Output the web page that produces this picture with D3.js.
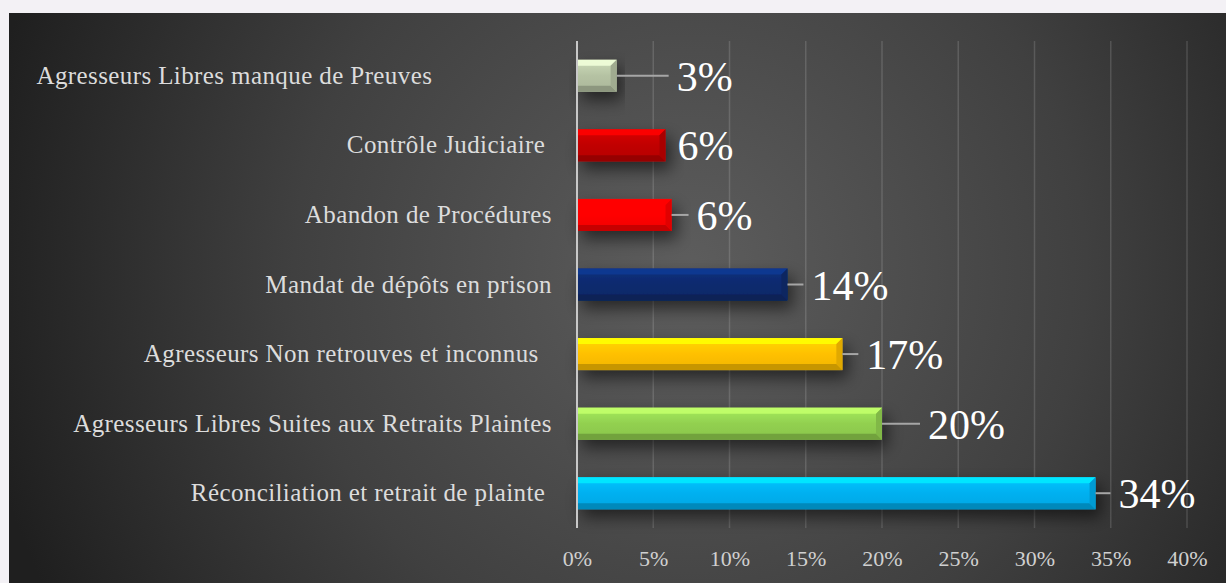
<!DOCTYPE html>
<html><head><meta charset="utf-8">
<script src="https://cdn.jsdelivr.net/npm/d3@7"></script>
<style>
html,body{margin:0;padding:0;background:#f3f1f5;}
svg{display:block;}
text{white-space:pre;}
</style></head>
<body>
<svg id="chart" width="1226" height="583"></svg>
<script>
// ---- data ----
const categories = [
  "Agresseurs Libres manque de Preuves\u00a0\u00a0\u00a0\u00a0\u00a0\u00a0\u00a0\u00a0\u00a0\u00a0\u00a0\u00a0\u00a0\u00a0\u00a0\u00a0\u00a0\u00a0",
  "Contrôle Judiciaire\u00a0",
  "Abandon de Procédures",
  "Mandat de dépôts en prison",
  "Agresseurs Non retrouves et inconnus\u00a0\u00a0",
  "Agresseurs Libres Suites aux Retraits Plaintes",
  "Réconciliation et retrait de plainte\u00a0"
];
const values = [2.6, 5.8, 6.2, 13.8, 17.4, 20.0, 34.0];
const valueLabels = ["3%", "6%", "6%", "14%", "17%", "20%", "34%"];
const tickValues = [0, 5, 10, 15, 20, 25, 30, 35, 40];
const tickLabels = ["0%", "5%", "10%", "15%", "20%", "25%", "30%", "35%", "40%"];

// ---- layout / style ----
const barColors = ["#b5c2a3", "#c00000", "#ff0000", "#0a2a6e", "#ffc000", "#92d050", "#00b0f0"];
const labelGaps = [60, 12, 25, 24, 24, 46, 23]; // px between bar end and value label
const W = 1226, H = 583;
const panel = {x: 9, y: 13};
const svg = d3.select("#chart");
const defs = svg.append("defs");

const bg = defs.append("radialGradient").attr("id", "bg")
  .attr("gradientUnits", "userSpaceOnUse")
  .attr("cx", 690).attr("cy", 270).attr("r", 720);
bg.append("stop").attr("offset", "0").attr("stop-color", "#5d5d5d");
bg.append("stop").attr("offset", "0.55").attr("stop-color", "#404040");
bg.append("stop").attr("offset", "1").attr("stop-color", "#1f1f1f");

const sh = defs.append("filter").attr("id", "shadow")
  .attr("x", "-20%").attr("y", "-50%").attr("width", "140%").attr("height", "250%");
sh.append("feDropShadow").attr("dx", 5).attr("dy", 8).attr("stdDeviation", 8)
  .attr("flood-color", "#000").attr("flood-opacity", 0.55);

svg.append("rect").attr("x", panel.x).attr("y", panel.y)
  .attr("width", W - panel.x).attr("height", H - panel.y).attr("fill", "url(#bg)");

const x = d3.scaleLinear().domain([0, 40]).range([577, 1187]);
const y = d3.scaleBand().domain(categories).range([41, 528]).paddingInner(0.54).paddingOuter(0.27);

// gridlines
svg.append("g").selectAll("line").data(tickValues.filter(d => d > 0)).join("line")
  .attr("x1", d => x(d)).attr("x2", d => x(d))
  .attr("y1", y.range()[0]).attr("y2", y.range()[1])
  .attr("stroke", "rgba(255,255,255,0.14)").attr("stroke-width", 1.5);

// x axis tick labels
const xAxis = d3.axisBottom(x).tickValues(tickValues).tickFormat((d, i) => tickLabels[i]).tickSize(0).tickPadding(0);
const gx = svg.append("g").attr("transform", `translate(0,${y.range()[1] + 38})`).call(xAxis);
gx.select(".domain").remove();
gx.selectAll("text").attr("fill", "#d0d0d0").attr("font-family", "Liberation Serif")
  .attr("font-size", 22).attr("dy", "0");

// category labels
svg.append("g").selectAll("text").data(categories).join("text")
  .attr("x", 552).attr("y", d => y(d) + y.bandwidth() / 2 + 8)
  .attr("text-anchor", "end").attr("fill", "#dcdcdc")
  .attr("font-family", "Liberation Serif").attr("font-size", 25).attr("letter-spacing", 0.4)
  .text(d => d);

// bars
const b = 6;
const rows = values.map((v, i) => ({v, i, cat: categories[i]}));
const bars = svg.append("g").selectAll("g").data(rows).join("g")
  .attr("filter", "url(#shadow)");
bars.each(function (d) {
  const g = d3.select(this);
  const i = d.i;
  const x0 = x(0), x1 = x(d.v), y0 = y(d.cat), y1 = y0 + y.bandwidth();
  const c = d3.color(barColors[i]);
  const face = defs.append("linearGradient").attr("id", "face" + i).attr("x1", 0).attr("y1", 0).attr("x2", 0).attr("y2", 1);
  face.append("stop").attr("offset", 0).attr("stop-color", c.brighter(0.35));
  face.append("stop").attr("offset", 0.5).attr("stop-color", c);
  face.append("stop").attr("offset", 1).attr("stop-color", c.darker(0.15));
  g.append("rect").attr("x", x0).attr("y", y0).attr("width", x1 - x0).attr("height", y1 - y0)
    .attr("fill", `url(#face${i})`);
  g.append("path").attr("d", `M${x0},${y0}L${x1},${y0}L${x1 - b},${y0 + b}L${x0},${y0 + b}Z`)
    .attr("fill", c.brighter(0.8)).attr("opacity", 0.9);
  g.append("path").attr("d", `M${x0},${y1}L${x1},${y1}L${x1 - b},${y1 - b}L${x0},${y1 - b}Z`)
    .attr("fill", c.darker(0.7));
  g.append("path").attr("d", `M${x1},${y0}L${x1},${y1}L${x1 - b},${y1 - b}L${x1 - b},${y0 + b}Z`)
    .attr("fill", c.darker(0.35));
});

// axis line
svg.append("line").attr("x1", x(0)).attr("x2", x(0))
  .attr("y1", y.range()[0]).attr("y2", y.range()[1])
  .attr("stroke", "#c8c8c8").attr("stroke-width", 2);

// leader lines
svg.append("g").selectAll("line").data(rows.filter(d => labelGaps[d.i] > 18)).join("line")
  .attr("x1", d => x(d.v)).attr("x2", d => x(d.v) + labelGaps[d.i] - 8)
  .attr("y1", d => y(d.cat) + y.bandwidth() / 2)
  .attr("y2", d => y(d.cat) + y.bandwidth() / 2)
  .attr("stroke", "#a6a6a6").attr("stroke-width", 2);

// value labels
svg.append("g").selectAll("text").data(rows).join("text")
  .attr("x", d => x(d.v) + labelGaps[d.i])
  .attr("y", d => y(d.cat) + y.bandwidth() / 2 + 15)
  .attr("fill", "#ffffff").attr("font-family", "Liberation Serif").attr("font-size", 42)
  .text(d => valueLabels[d.i]);
</script>
</body></html>
